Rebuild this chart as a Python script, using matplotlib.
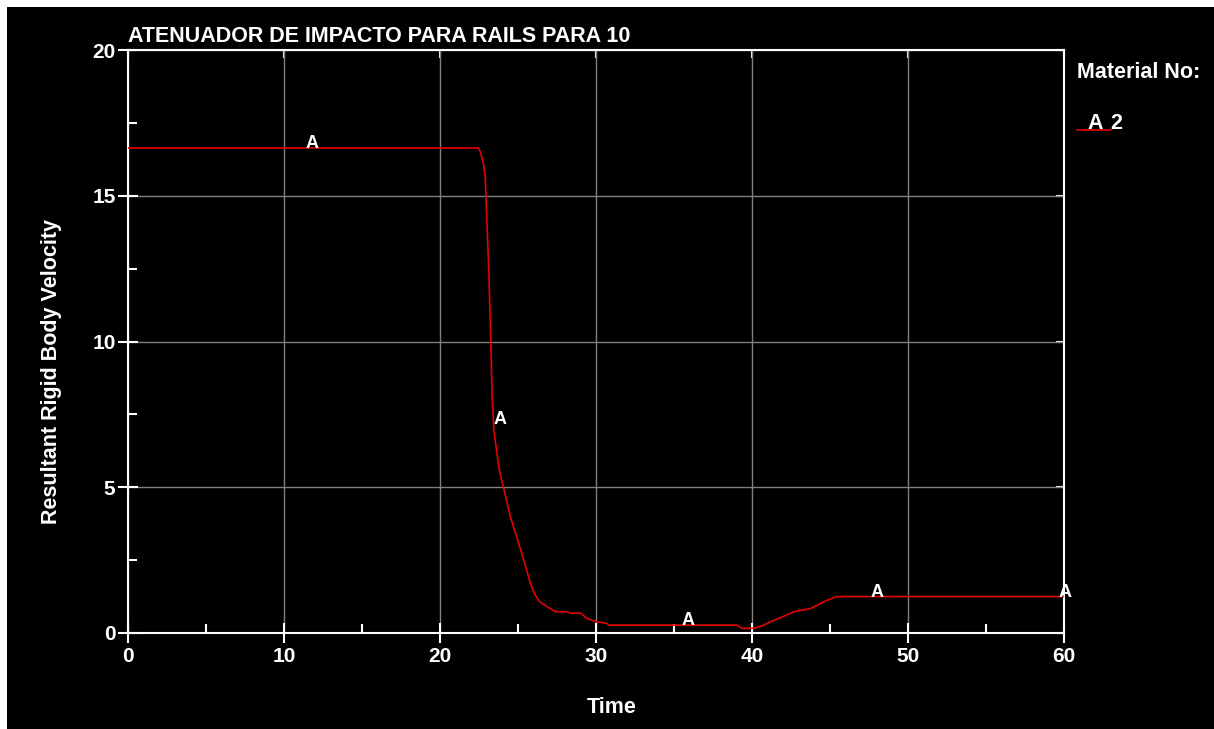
import matplotlib
matplotlib.use("Agg")
import matplotlib.pyplot as plt
from matplotlib.patches import Rectangle
from matplotlib.lines import Line2D
from matplotlib.ticker import MultipleLocator
import numpy as np

plt.rcParams['font.family'] = ['Liberation Sans', 'DejaVu Sans']

title = "ATENUADOR DE IMPACTO PARA RAILS PARA 10"
xlabel = "Time"
ylabel = "Resultant Rigid Body Velocity"
legend_title = "Material No:"
series_marker = "A"
series_name = "2"

time = [0, 22.46, 22.59, 22.7, 22.8, 22.9, 22.98, 23.13, 23.24, 23.34, 23.45, 23.62,
        23.8, 24.07, 24.5, 24.97, 25.37, 25.8, 26.1, 26.4, 26.87, 27.4, 28.15, 28.37,
        29.0, 29.44, 29.97, 30.7, 30.8, 39.05, 39.37, 40.1, 40.55, 41.2, 42.06, 42.7,
        43.77, 44.6, 45.4, 60]
velocity = [16.64, 16.64, 16.5, 16.28, 16.05, 15.65, 14.5, 12.4, 10.3, 8.16, 6.96, 6.28,
            5.6, 5.0, 4.0, 3.2, 2.5, 1.7, 1.3, 1.07, 0.9, 0.73, 0.73, 0.68,
            0.68, 0.5, 0.39, 0.33, 0.27, 0.27, 0.16, 0.16, 0.22, 0.39, 0.58, 0.73,
            0.84, 1.07, 1.25, 1.25]
marker_x = [11.36, 23.43, 35.5, 47.57, 59.64]

W, H = 1214, 729
fig = plt.figure(figsize=(W / 100, H / 100), dpi=100, facecolor='black')
# white strips along the top and left edges
fig.patches.append(Rectangle((0, 1 - 7 / H), 1, 7 / H, transform=fig.transFigure,
                             facecolor='white', edgecolor='none', zorder=-10))
fig.patches.append(Rectangle((0, 0), 7 / W, 1, transform=fig.transFigure,
                             facecolor='white', edgecolor='none', zorder=-10))

ax = fig.add_axes([128 / W, 1 - 633 / H, (1064 - 128) / W, (633 - 50) / H])
ax.set_facecolor('black')
red = '#e60000'
ax.plot(time, velocity, color=red, lw=1.2, zorder=3)

my = np.interp(marker_x, time, velocity)
for mx, yy in zip(marker_x, my):
    ax.text(mx, yy, series_marker, color='white', fontsize=13, fontweight='bold',
            ha='left', va='baseline', zorder=4)

ax.set_xlim(0, 60)
ax.set_ylim(0, 20)
ax.xaxis.set_major_locator(MultipleLocator(10))
ax.xaxis.set_minor_locator(MultipleLocator(5))
ax.yaxis.set_major_locator(MultipleLocator(5))
ax.yaxis.set_minor_locator(MultipleLocator(2.5))
ax.grid(True, which='major', color='#808080', lw=1.0, zorder=1)
for s in ax.spines.values():
    s.set_color('white')
    s.set_linewidth(1.5)
ax.tick_params(which='major', direction='inout', length=14, width=1.5, color='white',
               labelcolor='white', labelsize=15, pad=2)
ax.tick_params(which='minor', direction='in', length=6.5, width=1.5, color='white')
ax.tick_params(axis='x', which='major', pad=3)
for lab in ax.get_xticklabels() + ax.get_yticklabels():
    lab.set_fontweight('bold')

top = ax.secondary_xaxis('top')
top.xaxis.set_major_locator(MultipleLocator(10))
top.tick_params(direction='in', length=6, width=1.5, color='white', labeltop=False)
top.spines['top'].set_visible(False)
right = ax.secondary_yaxis('right')
right.yaxis.set_major_locator(MultipleLocator(5))
right.tick_params(direction='in', length=6, width=1.5, color='white', labelright=False)
right.spines['right'].set_visible(False)

fig.text(128 / W, 1 - 42 / H, title, color='white', fontsize=15.5, fontweight='bold',
         ha='left', va='baseline')
fig.text(611.5 / W, 1 - 713 / H, xlabel, color='white', fontsize=15.5, fontweight='bold',
         ha='center', va='baseline')
fig.text(52 / W, 1 - 371 / H, ylabel, color='white', fontsize=15.5, fontweight='bold',
         ha='center', va='center', rotation=90)
fig.text(1077 / W, 1 - 78 / H, legend_title, color='white', fontsize=15.5, fontweight='bold',
         ha='left', va='baseline')
fig.lines.append(Line2D([1077 / W, 1111 / W], [1 - 130 / H, 1 - 130 / H],
                        transform=fig.transFigure, color=red, lw=1.2))
fig.text(1087 / W, 1 - 129 / H, series_marker, color='white', fontsize=15.5,
         fontweight='bold', ha='left', va='baseline')
fig.text(1110 / W, 1 - 129 / H, series_name, color='white', fontsize=15.5,
         fontweight='bold', ha='left', va='baseline')

fig.savefig('out.png', dpi=100, facecolor=fig.get_facecolor())
